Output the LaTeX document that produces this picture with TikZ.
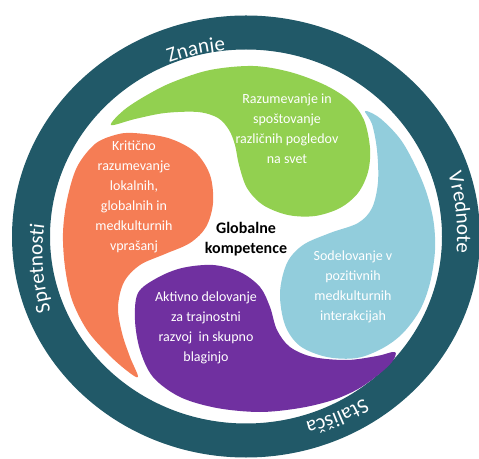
\documentclass[tikz,border=0pt]{standalone}
\usepackage{fontspec}
\setmainfont{Carlito}
\usetikzlibrary{decorations.text,calc}
\definecolor{ringc}{HTML}{215968}
\definecolor{greenc}{HTML}{92D050}
\definecolor{orangec}{HTML}{F57D55}
\definecolor{bluec}{HTML}{92CDDC}
\definecolor{purplec}{HTML}{7030A0}
\tikzset{
  blob/.style={smooth cycle, tension=0.55},
  blobtext/.style={align=center, text=white, inner sep=0pt, font=\fontsize{14}{20}\selectfont},
  centertext/.style={align=center, text=black, inner sep=0pt, font=\fontsize{16}{20}\selectfont\bfseries},
  ringlabel/.style={decorate, decoration={text along path, text align=center, text={|\fontsize{21}{21}\selectfont\color{white}|#1}}}
}
\begin{document}
\begin{tikzpicture}[x=1pt,y=1pt]
\useasboundingbox (0,0) rectangle (479,458);
\begin{scope}[yshift=458pt, y=-1pt]
  % ring
  \fill[ringc, even odd rule] (246,236.5) ellipse[x radius=234, y radius=221]
                              (246,236.5) ellipse[x radius=196, y radius=187];
  % green
  \fill[greenc] plot[blob] coordinates {
    (111,125) (124,110) (147,95) (173,82) (210,70) (253,66) (290,72) (325,85)
    (350,101) (364,120) (370,148) (368,172) (358,193) (340,208) (315,216)
    (288,215) (263,205) (247,188) (239,165) (235,145) (229,130) (218,118)
    (198,112) (165,113) (135,119)};
  % orange
  \fill[orangec] plot[blob] coordinates {
    (133,133) (168,138) (195,152) (210,175) (213,203) (206,227) (190,243)
    (165,254) (140,265) (124,282) (118,307) (122,333) (130,357) (138,377)
    (126,370) (107,353) (87,330) (72,300) (65,267) (63,233) (67,200)
    (77,167) (95,144) (115,135)};
  % light blue
  \fill[bluec] plot[blob] coordinates {
    (365,111) (381,119) (403,143) (423,183) (433,218) (435,250) (430,283)
    (420,310) (403,333) (383,348) (357,358) (327,357) (300,346) (285,325)
    (280,293) (287,263) (303,245) (330,233) (358,223) (372,208) (378,182)
    (377,150) (372,124)};
  % purple
  \fill[purplec] plot[blob] coordinates {
    (157,278) (182,268) (213,265) (240,272) (260,287) (270,307) (277,330)
    (290,347) (313,357) (347,360) (377,356) (395,352) (392,362) (378,375)
    (358,389) (333,400) (300,408) (260,412) (217,408) (180,397) (153,377)
    (140,350) (135,320) (138,293)};
  % texts
  \node[blobtext] (tg) at (287,129) {Razumevanje in\\spoštovanje\\različnih pogledov\\na svet};
  \node[blobtext] (to) at (134,197) {Kritično\\razumevanje\\lokalnih,\\globalnih in\\medkulturnih\\vprašanj};
  \node[blobtext] (tb) at (353,287) {Sodelovanje v\\pozitivnih\\medkulturnih\\interakcijah};
  \node[blobtext] (tp) at (206,328) {Aktivno delovanje\\za trajnostni\\razvoj~ in skupno\\blaginjo};
  \node[centertext] (tc) at (246,239) {Globalne\\kompetence};
\end{scope}
% ring labels (y up)
\path[ringlabel={Znanje}] ($(197,403.5)-(102:210)+(127:210)$) arc[start angle=127, end angle=77, radius=210];
\path[ringlabel={Vrednote}] ($(456,245)-(6:210)+(31:210)$) arc[start angle=31, end angle=-19, radius=210];
\path[ringlabel={Spretnosti}] ($(43,190)-(184:210)+(214:210)$) arc[start angle=214, end angle=154, radius=210];
\path[ringlabel={Stališča}] ($(335.5,45.5)-(292.5:210)+(317.5:210)$) arc[start angle=317.5, end angle=267.5, radius=210];
\end{tikzpicture}
\end{document}
